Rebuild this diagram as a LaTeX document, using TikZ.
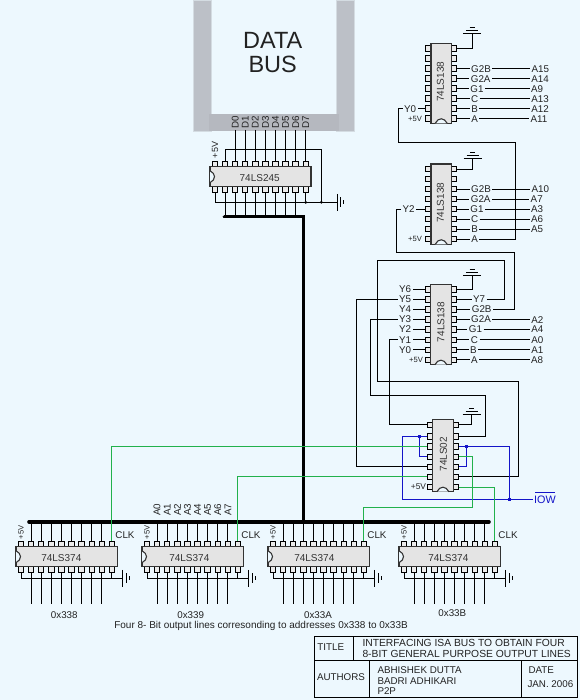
\documentclass[tikz,border=0pt]{standalone}
\usepackage{fontspec}
\setmainfont{Liberation Sans}
\definecolor{bgc}{HTML}{EDF8FE}
\definecolor{busc}{HTML}{BCC0C7}
\definecolor{chipc}{HTML}{E4E4E4}
\definecolor{gwc}{HTML}{22B14C}
\definecolor{bwc}{HTML}{1414C8}
\definecolor{txtc}{HTML}{222222}
\tikzset{
  wire/.style={draw=black,line width=1pt},
  gwire/.style={draw=gwc,line width=1pt},
  bwire/.style={draw=bwc,line width=1.1pt},
  thick bus/.style={draw=black,line width=3.6pt,line cap=round},
  pinbox/.style={draw=black,fill=white!92!black,line width=1pt,rectangle,minimum width=5.4pt,minimum height=5.4pt,inner sep=0pt},
  chipbody/.style={draw=black!80,fill=chipc,line width=1.1pt,rectangle,inner sep=0pt},
  lab/.style={font=\fontsize{9.8}{10}\selectfont,text=txtc,inner sep=0pt,outer sep=1.5pt},
  small lab/.style={font=\fontsize{7.6}{8}\selectfont,text=txtc,inner sep=0pt},
  chip lab/.style={font=\fontsize{10}{11}\selectfont,text=black!80,inner sep=0pt},
  dot/.style={circle,fill=black,inner sep=0pt,minimum size=3pt},
  bdot/.style={rectangle,fill=bwc,inner sep=0pt,minimum size=3pt},
  title txt/.style={font=\fontsize{9.8}{10}\selectfont,text=txtc,inner sep=0pt},
  title big/.style={font=\fontsize{10.3}{11}\selectfont,text=txtc,inner sep=0pt},
  frame line/.style={draw=black,line width=1pt},
}
% name, first pin x, top y, pin count, pitch, label, label x
\newcommand\hchip[7]{%
  \pgfmathsetmacro\chL{#2-5}%
  \pgfmathsetmacro\chR{#2+(#4-1)*#5+5.3}%
  \pgfmathsetmacro\chW{\chR-\chL}%
  \pgfmathsetmacro\chX{(\chL+\chR)/2}%
  \pgfmathsetmacro\chY{#3+10}%
  \foreach \i in {1,...,#4}{%
    \pgfmathsetmacro\pinx{#2+(\i-1)*#5}%
    \node[pinbox] (#1-t\i) at (\pinx,#3-2.7) {};
    \node[pinbox] (#1-b\i) at (\pinx,#3+22.7) {};
  }%
  \node[chipbody,minimum width=\chW pt,minimum height=20pt] (#1) at (\chX,\chY) {};
  \draw[draw=black!80,fill=bgc,line width=1.1pt] (\chL,\chY-6) .. controls (\chL+6,\chY-3) and (\chL+6,\chY+3) .. (\chL,\chY+6);
  \node[chip lab] (#1-name) at (#7,#3+11) {#6};
}
% name, left x, top y, bottom y, pin y list, label, label x, label y
\newcommand\vchip[8]{%
  \pgfmathsetmacro\chX{#2+10.2}%
  \pgfmathsetmacro\chY{(#3+#4)/2}%
  \pgfmathsetmacro\chH{#4-#3}%
  \foreach \i/\piny in {#5}{%
    \node[pinbox] (#1-l\i) at (#2-2.7,\piny) {};
    \node[pinbox] (#1-r\i) at (#2+23.1,\piny) {};
  }%
  \node[chipbody,minimum width=20.4pt,minimum height=\chH pt] (#1) at (\chX,\chY) {};
  \draw[draw=black!80,fill=bgc,line width=1.1pt] (\chX-6,#4) .. controls (\chX-3,#4-6) and (\chX+3,#4-6) .. (\chX+6,#4);
  \node[chip lab,rotate=90] (#1-name) at (#7,#8) {#6};
}
% ground opening upward, stem arrives from below
\newcommand\gndup[3]{%
  \coordinate (#1) at (#2,#3);
  \draw[wire] (#2-9,#3) -- (#2+9,#3);
  \draw[wire] (#2-6,#3-3) -- (#2+6,#3-3);
  \draw[wire] (#2-2.5,#3-6) -- (#2+2.5,#3-6);
}
% ground opening right, stem arrives from the left
\newcommand\gndright[3]{%
  \coordinate (#1) at (#2,#3);
  \draw[wire] (#2,#3-8.5) -- (#2,#3+8.5);
  \draw[wire] (#2+3.3,#3-5) -- (#2+3.3,#3+5);
  \draw[wire] (#2+6.6,#3-2) -- (#2+6.6,#3+2);
}
% 74LS374 with its wiring: name, first pin x, label x
\newcommand\regchip[3]{%
  \hchip{#1}{#2}{546.7}{10}{10.11}{74LS374}{#3}
  \pgfmathsetmacro\gx{#2+101.7}%
  \gndright{#1-g}{\gx}{578.3}
  \draw[wire] (#1-b1.south) |- (#1-g);
  \draw[wire] (#1-b10.south) -- (#1-b10.south |- #1-g);
  \foreach \i in {2,...,9}{%
    \draw[wire] (#1-t\i.north) -- (#1-t\i.north |- busL);
    \draw[wire] (#1-b\i.south) -- (#1-b\i.south |- outY);
  }
  \node[small lab,rotate=90] (#1-vcc) at (#1-t1.north |- vccY) {+5V};
  \pgfmathsetmacro\clkx{#2+104}%
  \node[lab] (#1-clk) at (\clkx,535) {CLK};
}
\begin{document}
\begin{tikzpicture}[x=1pt,y=-1pt]
\fill[bgc] (0,0) rectangle (580,700);
\useasboundingbox (0,0) rectangle (580,700);

% data bus
\fill[busc!50!bgc] (193,0) rectangle (212,132);
\fill[busc!50!bgc] (336,0) rectangle (355,132);
\fill[busc] (194,1) rectangle (211,131);
\fill[busc] (337,1) rectangle (354,131);
\fill[busc!96!black] (209,114) rectangle (339,131);
\node[font=\fontsize{23.5}{24}\selectfont,text=txtc,inner sep=0pt,anchor=base] (dataT) at (272.7,49) {DATA};
\node[font=\fontsize{23.5}{24}\selectfont,text=txtc,inner sep=0pt,anchor=base] (busT) at (272.7,72.3) {BUS};

\coordinate (dY) at (0,122);
\coordinate (busL) at (29,521.7);
\coordinate (busR) at (489,521.7);
\coordinate (outY) at (0,604.3);
\coordinate (vccY) at (0,532.5);
\coordinate (aY) at (0,510);

% 74LS245
\hchip{t}{215}{166.7}{10}{10.08}{74LS245}{259.7}
\foreach \i/\lbl in {3/D0,4/D1,5/D2,6/D3,7/D4,8/D5,9/D6,10/D7}{
  \node[lab,rotate=90] (bus-\lbl) at (t-t\i.north |- dY) {\lbl};
  \draw[wire] (bus-\lbl.west) -- (t-t\i.north);
}
\node[small lab,rotate=90,font=\fontsize{9}{9}\selectfont] (t-vcc) at (215,150) {+5V};
\node[dot] (jt2) at (321.3,202.3) {};
\coordinate (tv) at (321.3,150);
\draw[wire] (t-t2.north) |- (tv) -- (jt2);
\gndright{t-g}{337}{202.3}
\draw[wire] (t-b1.south) |- (t-g);
\node[dot] (jt1) at (t-b10.south |- t-g) {};
\draw[wire] (t-b10.south) -- (jt1);
\coordinate (tb1) at (224.5,216.7);
\coordinate (tb2) at (303.3,216.7);
\coordinate (tb3) at (303.3,521.7);
\foreach \i in {2,...,9}{
  \draw[wire] (t-b\i.south) -- (t-b\i.south |- tb1);
}
\draw[thick bus] (tb1) -- (tb2) -- (tb3);
\draw[thick bus] (busL) -- (busR);

% registers
\regchip{ra}{21}{61.3}
\regchip{rb}{147}{189.3}
\regchip{rc}{273}{314.3}
\regchip{rd}{404}{448.3}
\foreach \i/\lbl in {2/A0,3/A1,4/A2,5/A3,6/A4,7/A5,8/A6,9/A7}{
  \node[lab,rotate=90] (rb-\lbl) at (rb-t\i.north |- aY) {\lbl};
}
\node[lab] (ra-addr) at (64.3,614.7) {0x338};
\node[lab] (rb-addr) at (190.7,614.7) {0x339};
\node[lab] (rc-addr) at (318,614.7) {0x33A};
\node[lab] (rd-addr) at (452.3,613.5) {0x33B};
\node[lab,font=\fontsize{10}{11}\selectfont,anchor=west,inner sep=0pt,outer sep=0pt] (caption) at (114.3,626) {Four 8- Bit output lines corresonding to addresses 0x338 to 0x33B};

% first 74LS138
\vchip{da}{431}{43.5}{123.3}{1/48.5,2/58.5,3/68.7,4/78.7,5/88.7,6/98.7,7/108.7,8/118.7}{74LS138}{440.3}{81.7}
\gndup{da-g}{472}{34}
\draw[wire] (da-r1.east) -| (da-g);
\node[lab] (da-G2B) at (481,68.7) {G2B};
\node[lab] (da-G2A) at (480.7,78.7) {G2A};
\node[lab] (da-G1) at (477,88.7) {G1};
\node[lab] (da-C) at (474.7,98.7) {C};
\node[lab] (da-B) at (474.7,108.7) {B};
\node[lab] (da-A) at (474.7,118.7) {A};
\node[lab] (x-A15) at (540.3,68.7) {A15};
\node[lab] (x-A14) at (540,78.7) {A14};
\node[lab] (x-A9) at (537,88.7) {A9};
\node[lab] (x-A13) at (540,98.7) {A13};
\node[lab] (x-A12) at (540,108.7) {A12};
\node[lab] (x-A11) at (539,118.7) {A11};
\foreach \i/\p/\e in {3/G2B/A15,4/G2A/A14,5/G1/A9,6/C/A13,7/B/A12,8/A/A11}{
  \draw[wire] (da-r\i.east) -- (da-\p.west);
  \draw[wire] (da-\p.east) -- (x-\e.west);
}
\node[lab] (da-Y0) at (410,108.7) {Y0};
\draw[wire] (da-l7.west) -- (da-Y0.east);
\node[small lab] (da-vcc) at (415,118.7) {+5V};

% second 74LS138
\vchip{db}{431}{164}{244.3}{1/169.3,2/179.3,3/189.3,4/199.3,5/209.3,6/219.3,7/229.3,8/239.3}{74LS138}{440.3}{202.7}
\gndup{db-g}{472.5}{158.3}
\draw[wire] (db-r1.east) -| (db-g);
\node[lab] (db-G2B) at (481,189.3) {G2B};
\node[lab] (db-G2A) at (480.7,199.3) {G2A};
\node[lab] (db-G1) at (477,209.3) {G1};
\node[lab] (db-C) at (474.7,219.3) {C};
\node[lab] (db-B) at (474.7,229.3) {B};
\node[lab] (db-A) at (474.7,239.3) {A};
\node[lab] (x-A10) at (540.3,189.3) {A10};
\node[lab] (x-A7) at (536.7,199.3) {A7};
\node[lab] (x-A3) at (537,209.3) {A3};
\node[lab] (x-A6) at (537,219.3) {A6};
\node[lab] (x-A5) at (537,229.3) {A5};
\foreach \i/\p/\e in {3/G2B/A10,4/G2A/A7,5/G1/A3,6/C/A6,7/B/A5}{
  \draw[wire] (db-r\i.east) -- (db-\p.west);
  \draw[wire] (db-\p.east) -- (x-\e.west);
}
\draw[wire] (db-r8.east) -- (db-A.west);
\node[lab] (db-Y2) at (408.5,209.3) {Y2};
\draw[wire] (db-l5.west) -- (db-Y2.east);
\node[small lab] (db-vcc) at (415,239.3) {+5V};
\coordinate (wa1) at (398.3,142.7);
\coordinate (wa2) at (515.7,142.7);
\draw[wire] (da-Y0.west) -| (wa1) -- (wa2) |- (db-A.east);

% third 74LS138
\vchip{dc}{430.7}{284.3}{364.7}{1/289.3,2/299.3,3/309.5,4/319.6,5/329.5,6/339.7,7/349.7,8/359.7}{74LS138}{441}{322}
\gndup{dc-g}{472}{275}
\draw[wire] (dc-r1.east) -| (dc-g);
\foreach \i/\lbl/\py in {1/Y6/289.3,2/Y5/299.3,3/Y4/309.5,4/Y3/319.6,5/Y2/329.5,6/Y1/339.7,7/Y0/349.7}{
  \node[lab] (dc-\lbl) at (405,\py) {\lbl};
  \draw[wire] (dc-l\i.west) -- (dc-\lbl.east);
}
\node[small lab] (dc-vcc) at (416,359.7) {+5V};
\node[lab] (dc-Y7) at (479,299.3) {Y7};
\node[lab] (dc-G2B) at (481.7,309.5) {G2B};
\node[lab] (dc-G2A) at (481,319.6) {G2A};
\node[lab] (dc-G1) at (475.5,329.5) {G1};
\node[lab] (dc-C) at (474.5,339.7) {C};
\node[lab] (dc-B) at (473.5,349.7) {B};
\node[lab] (dc-A) at (474.5,359.7) {A};
\draw[wire] (dc-r2.east) -- (dc-Y7.west);
\draw[wire] (dc-r3.east) -- (dc-G2B.west);
\node[lab] (x-A2) at (537.3,319.6) {A2};
\node[lab] (x-A4) at (537.3,329.5) {A4};
\node[lab] (x-A0) at (537.3,339.7) {A0};
\node[lab] (x-A1) at (537.3,349.7) {A1};
\node[lab] (x-A8) at (537,359.7) {A8};
\foreach \i/\p/\e in {4/G2A/A2,5/G1/A4,6/C/A0,7/B/A1,8/A/A8}{
  \draw[wire] (dc-r\i.east) -- (dc-\p.west);
  \draw[wire] (dc-\p.east) -- (x-\e.west);
}
\coordinate (wb1) at (396.7,252.7);
\coordinate (wb2) at (514.7,252.7);
\draw[wire] (db-Y2.west) -| (wb1) -- (wb2) |- (dc-G2B.east);

% 74LS02
\vchip{nr}{432.7}{419.3}{491.7}{1/424.7,2/436.3,3/446.3,4/456.7,5/466.7,6/476.7,7/487}{74LS02}{443.3}{454.3}
\gndup{nr-g}{471.7}{414}
\draw[wire] (nr-r1.east) -| (nr-g);
\node[small lab,font=\fontsize{8.4}{9}\selectfont] (nr-vcc) at (418.5,487) {+5V};

% wires from third decoder to NOR gates
\coordinate (wc1) at (504.3,260.7);
\coordinate (wc2) at (377.3,260.7);
\coordinate (wc3) at (377.3,381.3);
\coordinate (wc4) at (518.7,381.3);
\draw[wire] (dc-Y7.east) -| (wc1) -- (wc2) -- (wc3) -- (wc4) |- (nr-r6.east);
\coordinate (wd1) at (356.7,466.7);
\coordinate (wd3) at (356.7,299.3);
\draw[wire] (dc-Y5.west) -- (wd3) -- (wd1) -- (nr-l5.west);
\coordinate (we1) at (370,395.3);
\coordinate (we2) at (485.7,395.3);
\draw[wire] (dc-Y3.west) -| (we1) -- (we2) |- (nr-r2.east);
\coordinate (wf1) at (389.3,424.7);
\draw[wire] (dc-Y1.west) -| (wf1) -- (nr-l1.west);

% IOW
\node[lab,text=bwc,font=\fontsize{10.8}{11}\selectfont] (iow) at (545,499.8) {IOW};
\draw[bwire,line width=0.9pt] (535,492.9) -- (555,492.9);
\coordinate (iw1) at (402.7,499.8);
\node[bdot] (jb1) at (419.3,436.3) {};
\node[bdot] (jb2) at (466.7,446.3) {};
\node[bdot] (jb3) at (509.3,499.8) {};
\draw[bwire] (nr-l2.west) -| (iw1) -- (iow.west);
\draw[bwire] (jb1) |- (nr-l4.west);
\draw[bwire] (nr-r3.east) -| (jb3);
\draw[bwire] (jb2) |- (nr-r5.east);

% clocks
\coordinate (gw1) at (472.7,507);
\draw[gwire] (nr-l3.west) -| (ra-t10.north);
\draw[gwire] (nr-l6.west) -| (rb-t10.north);
\draw[gwire] (nr-r4.east) -| (gw1) -| (rc-t10.north);
\draw[gwire] (nr-r7.east) -| (rd-t10.north);

% title block
\draw[frame line] (314.7,636.7) rectangle (577.7,697.3);
\draw[frame line] (314.7,660) -- (577.7,660);
\draw[frame line] (353.3,636.7) -- (353.3,660);
\draw[frame line] (369.7,660) -- (369.7,697.3);
\draw[frame line] (521.7,660) -- (521.7,697.3);
\node[title txt] (tb-title) at (330.7,646.7) {TITLE};
\node[title big,anchor=west] (tb-l1) at (362.3,643) {INTERFACING ISA BUS TO OBTAIN FOUR};
\node[title big,anchor=west] (tb-l2) at (362.3,653.7) {8-BIT GENERAL PURPOSE OUTPUT LINES};
\node[title txt] (tb-auth) at (341,677.3) {AUTHORS};
\node[title txt,anchor=west] (tb-n1) at (377.3,669.7) {ABHISHEK DUTTA};
\node[title txt,anchor=west] (tb-n2) at (377.3,680.7) {BADRI ADHIKARI};
\node[title txt,anchor=west] (tb-n3) at (377.3,691) {P2P};
\node[title txt,anchor=west] (tb-date) at (528.3,669.7) {DATE};
\node[title txt,anchor=west] (tb-jan) at (527.3,684.3) {JAN. 2006};
\end{tikzpicture}
\end{document}
